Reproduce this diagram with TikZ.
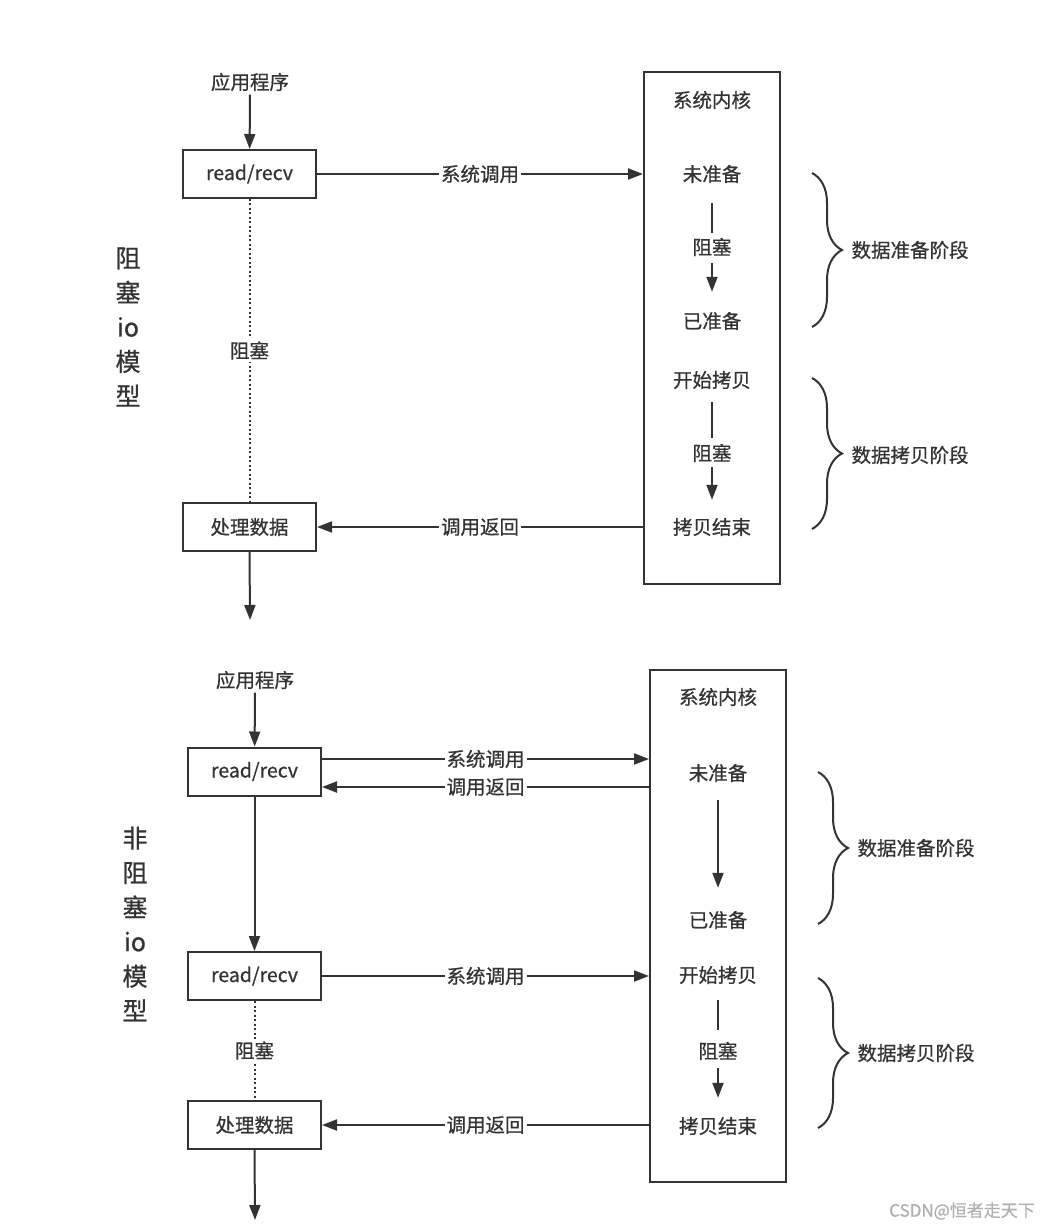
\documentclass[tikz,border=0pt]{standalone}
\usepackage{fontspec}
\setmainfont{Noto Sans CJK SC}[FakeBold=0.7]
\usetikzlibrary{arrows.meta,decorations.pathreplacing}
\definecolor{ink}{HTML}{333333}
\definecolor{mark}{HTML}{B0B0B0}

\begin{document}
\begin{tikzpicture}[x=1pt,y=-1pt,
  every node/.style={text=ink, font=\fontsize{19.5}{22}\selectfont},
  box/.style={draw=ink, line width=2pt, minimum width=133pt, minimum height=48pt, inner sep=0pt},
  kern/.style={draw=ink, line width=2pt, minimum width=136pt, minimum height=512pt, inner sep=0pt},
  ktxt/.style={inner sep=0pt, minimum height=20pt},
  lbl/.style={fill=white, inner sep=2pt},
  arr/.style={draw=ink, line width=2pt, -{Triangle[length=15pt,width=11pt]}},
  ln/.style={draw=ink, line width=2pt},
  dots/.style={draw=ink, line width=2pt, dash pattern=on 2pt off 2.5pt},
  brc/.style={draw=ink, line width=2pt, decorate, decoration={brace, amplitude=30pt}},
  side/.style={font=\fontsize{25}{34.5}\selectfont, align=center}
]
\useasboundingbox (0,0) rectangle (1063,1230);

% blocking io
\node[side] (title1) at (128,327) {阻\\塞\\io\\模\\型};
\node (app1) at (250,82) {应用程序};
\node[box] (rr1) at (249.5,174) {read/recv};
\node[box] (proc1) at (249.5,527) {处理数据};
\coordinate (tail1) at (250,620);
\node[kern] (k1) at (712,328) {};
\node[ktxt] (sys1) at (712,100) {系统内核};
\node[ktxt] (unr1) at (712,174) {未准备};
\node[ktxt] (blk1) at (712,247) {阻塞};
\node[ktxt] (rdy1) at (712,321) {已准备};
\node[ktxt] (cpy1) at (712,380) {开始拷贝};
\node[ktxt] (blk2) at (712,453) {阻塞};
\node[ktxt] (end1) at (712,527) {拷贝结束};

\draw[arr] (app1) -- (rr1);
\draw[arr] (rr1.east) -- node[lbl] {系统调用} (rr1.east -| k1.west);
\draw[dots] (rr1.south) -- node[lbl] {阻塞} (proc1.north);
\draw[arr] (proc1.east -| k1.west) -- node[lbl] {调用返回} (proc1.east);
\draw[arr] (proc1.south) -- (tail1);
\draw[ln, shorten <=19pt, shorten >=4pt] (unr1) -- (blk1);
\draw[arr, shorten <=6pt, shorten >=19pt] (blk1) -- (rdy1);
\draw[ln, shorten <=12pt, shorten >=5pt] (cpy1) -- (blk2);
\draw[arr, shorten <=4pt, shorten >=17pt] (blk2) -- (end1);

\coordinate (b1t) at (812,173);
\coordinate (b1b) at (812,327);
\coordinate (b2t) at (812,378);
\coordinate (b2b) at (812,529);
\draw[brc] (b1t) -- (b1b);
\draw[brc] (b2t) -- (b2b);
\node[anchor=west] (ph1) at (848,250) {数据准备阶段};
\node[anchor=west] (ph2) at (848,455) {数据拷贝阶段};

% non-blocking io
\node[side] (title2) at (135,924) {非\\阻\\塞\\io\\模\\型};
\node (app2) at (255,680) {应用程序};
\node[box] (rr2) at (254.5,771.5) {read/recv};
\node[box] (rr3) at (254.5,976) {read/recv};
\node[box] (proc2) at (254.5,1125) {处理数据};
\coordinate (tail2) at (255,1220);
\node[kern] (k2) at (718,926) {};
\node[ktxt] (sys2) at (718,697) {系统内核};
\node[ktxt] (unr2) at (718,773) {未准备};
\node[ktxt] (rdy2) at (718,920) {已准备};
\node[ktxt] (cpy2) at (718,975) {开始拷贝};
\node[ktxt] (blk4) at (718,1051) {阻塞};
\node[ktxt] (end2) at (718,1126) {拷贝结束};

\draw[arr] (app2) -- (rr2);
\draw[arr] ([yshift=12.5pt]rr2.east) -- node[lbl] {系统调用} ([yshift=12.5pt]rr2.east -| k2.west);
\draw[arr] ([yshift=-15.5pt]rr2.east -| k2.west) -- node[lbl] {调用返回} ([yshift=-15.5pt]rr2.east);
\draw[arr] (rr2.south) -- (rr3.north);
\draw[arr] (rr3.east) -- node[lbl] {系统调用} (rr3.east -| k2.west);
\draw[dots] (rr3.south) -- node[lbl] {阻塞} (proc2.north);
\draw[arr] (proc2.east -| k2.west) -- node[lbl] {调用返回} (proc2.east);
\draw[arr] (proc2.south) -- (tail2);
\draw[arr, shorten <=17pt, shorten >=22pt] (unr2) -- (rdy2);
\draw[ln, shorten <=15pt, shorten >=11pt] (cpy2) -- (blk4);
\draw[arr, shorten <=7pt, shorten >=18pt] (blk4) -- (end2);

\coordinate (b3t) at (818,772);
\coordinate (b3b) at (818,924);
\coordinate (b4t) at (818,978);
\coordinate (b4b) at (818,1128);
\draw[brc] (b3t) -- (b3b);
\draw[brc] (b4t) -- (b4b);
\node[anchor=west] (ph3) at (854,848) {数据准备阶段};
\node[anchor=west] (ph4) at (854,1053) {数据拷贝阶段};

\node[text=mark, font=\fontsize{17}{19}\selectfont] (wm) at (962,1211) {CSDN@恒者走天下};
\end{tikzpicture}
\end{document}
